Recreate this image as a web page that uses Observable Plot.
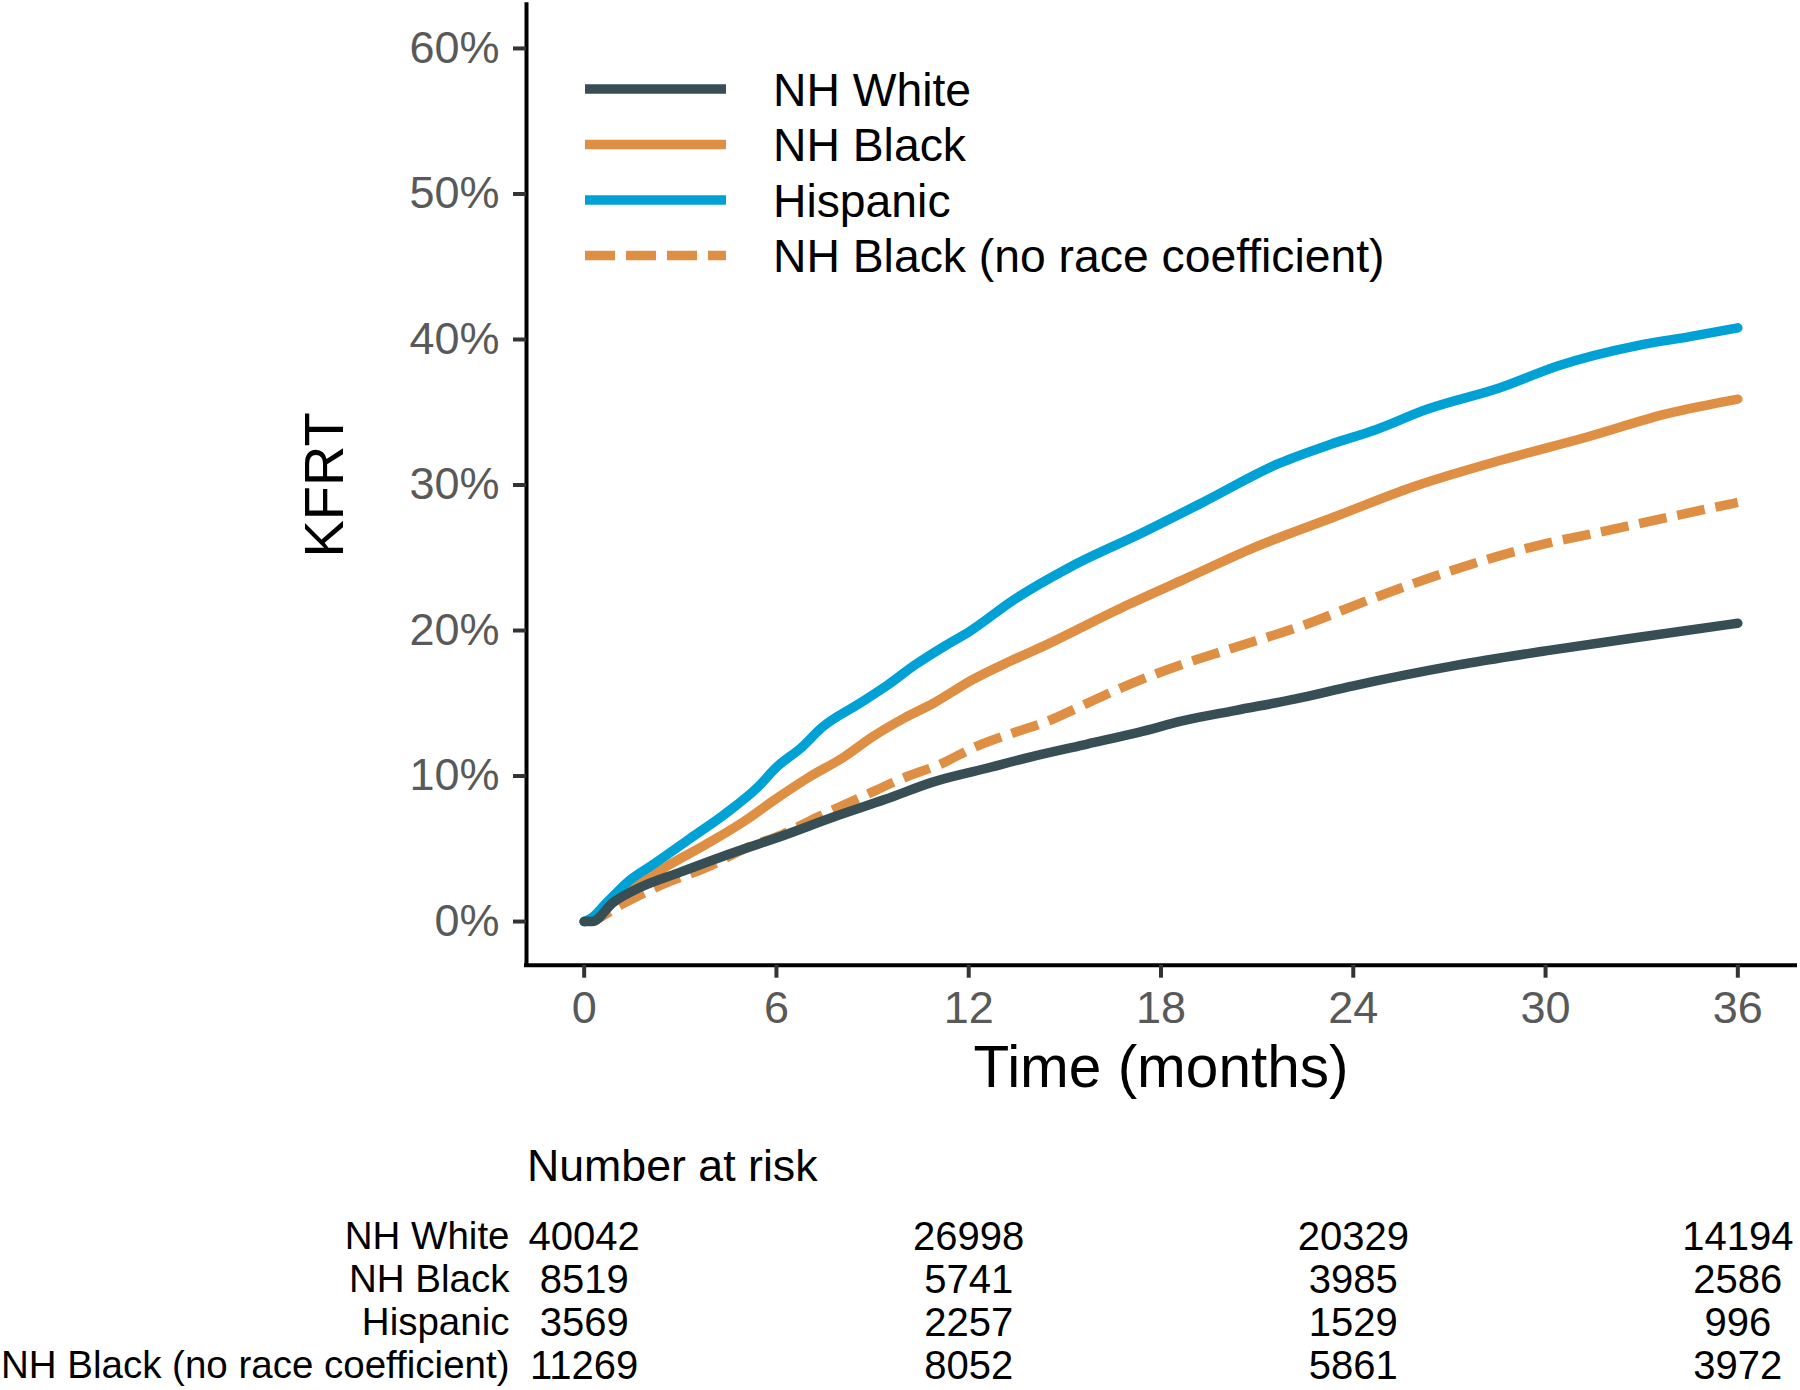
<!DOCTYPE html>
<html><head><meta charset="utf-8">
<script src="https://cdn.jsdelivr.net/npm/d3@7"></script>
<script src="https://cdn.jsdelivr.net/npm/@observablehq/plot@0.6"></script>
<style>
html,body{margin:0;padding:0;background:#fff;}
#root{position:relative;width:1800px;height:1390px;overflow:hidden;font-family:"Liberation Sans",Arial,sans-serif;background:#fff;}
#root > *{position:absolute;}
</style></head><body><div id="root"></div>
<script>
const FONT = '"Liberation Sans", Arial, sans-serif';
const groups = ["NH White", "NH Black", "Hispanic", "NH Black (no race coefficient)"];
const colors = ["#374E55", "#DF8F44", "#00A1D5", "#DF8F44"];
const xTicks = [0, 6, 12, 18, 24, 30, 36];
const yTicks = [0, 10, 20, 30, 40, 50, 60];

// cumulative incidence of KFRT (%) by time (months)
const whiteT = [0, 0.25, 0.9, 1.7, 3.0, 4.6, 6.2, 7.8, 9.4, 10.9, 12.5, 14.1, 15.7, 17.3, 18.7, 20.3, 22.2, 24.0, 27.2, 30.0, 32.8, 36.0];
const whiteV = [0, 0, 1.3, 2.3, 3.4, 4.7, 5.9, 7.2, 8.4, 9.6, 10.5, 11.4, 12.2, 13.0, 13.8, 14.5, 15.3, 16.2, 17.6, 18.6, 19.5, 20.5];

const blackT = [0, 0.2, 0.7, 1.4, 2.5, 3.8, 5.0, 5.9, 7.0, 8.1, 9.0, 10.0, 10.9, 12.1, 13.3, 14.5, 15.6, 17.0, 18.8, 20.9, 23.4, 25.9, 28.6, 31.3, 33.8, 36.0];
const blackV = [0, 0.2, 1.0, 2.1, 3.7, 5.3, 6.9, 8.3, 9.9, 11.3, 12.7, 14.0, 15.0, 16.6, 17.9, 19.1, 20.3, 21.8, 23.6, 25.7, 27.8, 29.9, 31.7, 33.3, 34.9, 35.9];

const hispT = [0, 0.2, 0.7, 1.4, 2.2, 3.3, 4.4, 5.4, 6.0, 6.8, 7.4, 8.6, 9.5, 10.3, 11.3, 12.0, 13.4, 15.2, 17.4, 19.3, 21.7, 23.3, 24.7, 26.3, 28.6, 30.4, 32.9, 34.5, 36.0];
const hispV = [0, 0.2, 1.3, 2.8, 4.0, 5.7, 7.4, 9.2, 10.6, 12.0, 13.3, 15.0, 16.3, 17.6, 19.0, 19.9, 22.1, 24.4, 26.7, 28.8, 31.5, 32.8, 33.8, 35.2, 36.7, 38.2, 39.6, 40.2, 40.8];

const noRaceT = [0, 0.3, 1.1, 2.5, 3.8, 5.1, 6.2, 7.3, 8.6, 10.0, 11.1, 12.2, 13.3, 14.5, 15.4, 16.7, 17.7, 18.7, 20.1, 22.5, 24.6, 26.9, 29.5, 32.2, 34.5, 36.0];
const noRaceV = [0, 0.1, 1.1, 2.6, 3.7, 5.1, 6.0, 7.2, 8.5, 9.9, 10.8, 12.0, 12.9, 13.8, 14.7, 16.0, 16.9, 17.7, 18.7, 20.4, 22.2, 24.0, 25.7, 27.0, 28.1, 28.8];

// number at risk
const riskTimes = [0, 12, 24, 36];
const riskWhite = [40042, 26998, 20329, 14194];
const riskBlack = [8519, 5741, 3985, 2586];
const riskHisp = [3569, 2257, 1529, 996];
const riskNoRace = [11269, 8052, 5861, 3972];

const seriesT = [whiteT, blackT, hispT, noRaceT];
const seriesV = [whiteV, blackV, hispV, noRaceV];
const riskRows = [riskWhite, riskBlack, riskHisp, riskNoRace];

const data = groups.flatMap((g, k) => seriesT[k].map((t, i) => ({group: g, time: t, kfrt: seriesV[k][i]})));
const riskData = groups.flatMap((g, k) => riskTimes.map((t, i) => ({group: g, time: t, n: riskRows[k][i]})));

const xDomain = [-1.8, 37.8];
const yDomain = [-3, 63];
const drawOrder = [3, 1, 2, 0];
const LW = 9.5;

const root = document.getElementById("root");

const chart = Plot.plot({
  width: 1800, height: 1110,
  marginLeft: 526, marginRight: 5, marginTop: 4.3, marginBottom: 145.3,
  style: {fontFamily: FONT, fontSize: "45px", background: "transparent", overflow: "visible"},
  x: {domain: xDomain, axis: null},
  y: {domain: yDomain, axis: null},
  marks: [
    ...drawOrder.map(k => Plot.line(data.filter(d => d.group === groups[k]), {
      x: "time", y: "kfrt", stroke: colors[k], strokeWidth: LW, curve: "monotone-x",
      strokeDasharray: k === 3 ? "28,11" : null,
      strokeLinecap: k === 3 ? "butt" : "round"
    })),
    Plot.ruleY([yDomain[0]], {stroke: "#000", strokeWidth: 4, strokeLinecap: "square"}),
    Plot.ruleX([xDomain[0]], {stroke: "#000", strokeWidth: 4, strokeLinecap: "square"}),
    Plot.axisX(xTicks, {anchor: "bottom", tickSize: 13, tickPadding: 13, stroke: "#333", strokeWidth: 4, fill: "#595959", fontSize: 45, label: null}),
    Plot.axisY(yTicks, {anchor: "left", tickSize: 13, tickPadding: 14, stroke: "#333", strokeWidth: 4, fill: "#595959", fontSize: 45, tickFormat: d => d + "%", label: null}),
    Plot.text(["KFRT"], {frameAnchor: "left", textAnchor: "middle", lineAnchor: "middle", dx: -201, rotate: -90, fontSize: 56, fill: "#000", text: d => d}),
    Plot.text(["Time (months)"], {frameAnchor: "bottom", textAnchor: "middle", lineAnchor: "middle", dy: 103, fontSize: 58.5, fill: "#000", text: d => d})
  ]
});
chart.style.left = "0px"; chart.style.top = "0px";
root.appendChild(chart);

// legend
const legend = d3.create("svg").attr("width", 1800).attr("height", 300)
  .style("left", "0px").style("top", "0px").style("font-family", FONT);
groups.forEach((g, k) => {
  const y = 89 + k * 55.5;
  legend.append("line").attr("x1", 585).attr("x2", 726).attr("y1", y).attr("y2", y)
    .attr("stroke", colors[k]).attr("stroke-width", LW)
    .attr("stroke-dasharray", k === 3 ? "30,11" : null);
  legend.append("text").attr("x", 773).attr("y", y).attr("dy", "0.36em")
    .attr("font-size", 46.3).attr("fill", "#000").text(g);
});
root.appendChild(legend.node());

// number at risk title
const title = document.createElement("div");
title.textContent = "Number at risk";
Object.assign(title.style, {left: "527px", top: "1144px", fontSize: "44.7px", lineHeight: "1", color: "#000", fontFamily: FONT});
root.appendChild(title);

// risk table
const table = Plot.plot({
  width: 1800, height: 200,
  marginLeft: 526, marginRight: 5, marginTop: 24.5, marginBottom: 3.5,
  style: {fontFamily: FONT, fontSize: "38.5px", background: "transparent", overflow: "visible", color: "#000"},
  x: {domain: xDomain, axis: null},
  y: {type: "band", domain: groups, padding: 0, axis: null},
  marks: [
    Plot.text(riskData, {x: "time", y: "group", text: d => String(d.n), fontSize: 40, fill: "#000"}),
    Plot.axisY(groups, {anchor: "left", tickSize: 0, tickPadding: 17, fontSize: 38.5, fill: "#000", label: null})
  ]
});
table.style.left = "0px"; table.style.top = "1190px";
root.appendChild(table);
</script>
</body></html>
